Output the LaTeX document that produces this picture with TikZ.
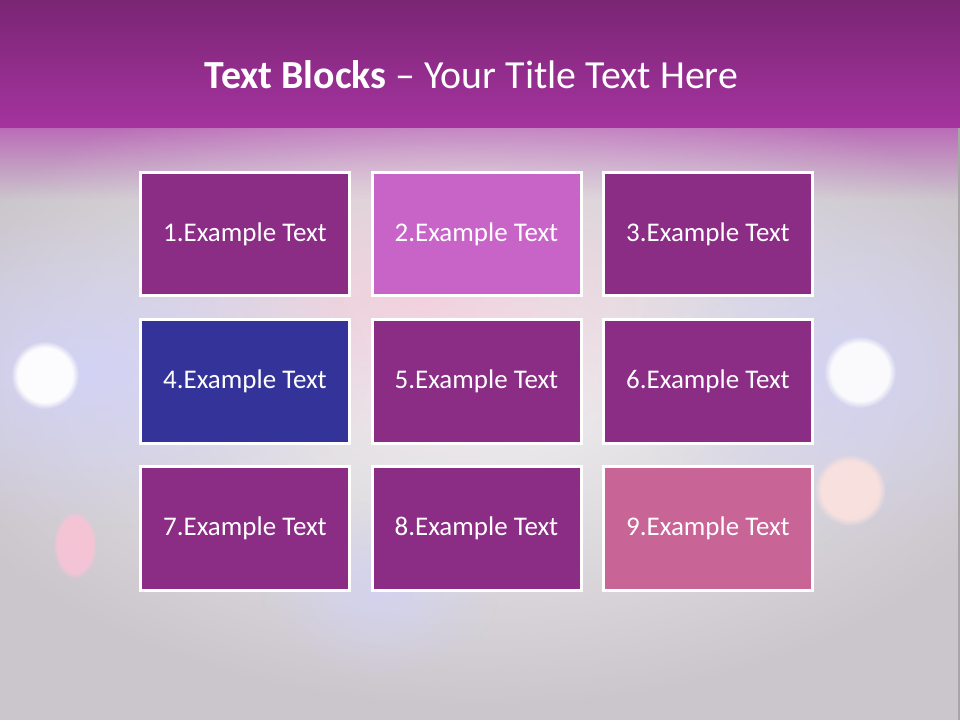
\documentclass[tikz,border=0pt]{standalone}
\usepackage{fontspec}
\setmainfont{Carlito}
\usetikzlibrary{fadings}
\definecolor{plum}{HTML}{8B2C85}
\definecolor{orchid}{HTML}{C864C8}
\definecolor{indigo}{HTML}{333399}
\definecolor{rose}{HTML}{C86496}
\definecolor{slidebg}{HTML}{CBC6CC}
\definecolor{bartop}{HTML}{7A2574}
\definecolor{barbot}{HTML}{A5339F}
\definecolor{fadetop}{HTML}{BA6CB7}
\definecolor{bluelight}{HTML}{D2D2F8}
\definecolor{pinklight}{HTML}{F8C4D6}
\definecolor{peachlight}{HTML}{FBE2DE}
\tikzfading[name=glow, inner color=transparent!0, outer color=transparent!100]

\begin{document}
\begin{tikzpicture}[x=0.03cm, y=0.03cm,
    block/.style={draw=white, line width=0.09cm, minimum width=6.27cm, minimum height=3.69cm, inner sep=0pt, text=white, font=\fontsize{23}{27}\selectfont},
    halo/.style={path fading=glow},
    dot/.style={path fading=circle with fuzzy edge 20 percent}
]
    % slide background
    \fill[slidebg] (0,0) rectangle (960,720);
    \useasboundingbox (0,0) rectangle (960,720);
    \shade[top color=fadetop, bottom color=slidebg] (0,520) rectangle (960,592);

    % blurred lights
    \begin{scope}
    \clip (0,0) rectangle (960,592);
    \fill[white, opacity=0.75, halo] (480,340) ellipse (580 and 330);
    \fill[pinklight, opacity=0.6, halo] (420,420) ellipse (300 and 160);
    \fill[bluelight, opacity=0.9, halo] (90,350) ellipse (280 and 160);
    \fill[bluelight, opacity=0.8, halo] (850,350) ellipse (220 and 180);
    \fill[bluelight, opacity=0.7, halo] (380,130) ellipse (120 and 90);
    \fill[white, opacity=0.95, dot] (45,345) circle (34);
    \fill[white, opacity=0.9, dot] (860,348) circle (36);
    \fill[pinklight, opacity=0.9, dot] (75,175) ellipse (22 and 34);
    \fill[peachlight, opacity=0.9, dot] (850,230) circle (36);
    \end{scope}

    % title band
    \shade[top color=bartop, bottom color=barbot] (0,592) rectangle (960,720);
    \node[text=white, font=\fontsize{34}{40}\selectfont] (title) at (471.5,645) {\textbf{Text Blocks} -- Your Title Text Here};

    % right edge
    \draw[gray!70, line width=0.06cm] (959,0) -- (959,592);

    % blocks
    \node[block, fill=plum] (b1) at (245,486) {1.Example Text};
    \node[block, fill=orchid] (b2) at (476.5,486) {2.Example Text};
    \node[block, fill=plum] (b3) at (708,486) {3.Example Text};
    \node[block, fill=indigo] (b4) at (245,338.5) {4.Example Text};
    \node[block, fill=plum] (b5) at (476.5,338.5) {5.Example Text};
    \node[block, fill=plum] (b6) at (708,338.5) {6.Example Text};
    \node[block, fill=plum] (b7) at (245,191.5) {7.Example Text};
    \node[block, fill=plum] (b8) at (476.5,191.5) {8.Example Text};
    \node[block, fill=rose] (b9) at (708,191.5) {9.Example Text};

\end{tikzpicture}
\end{document}
